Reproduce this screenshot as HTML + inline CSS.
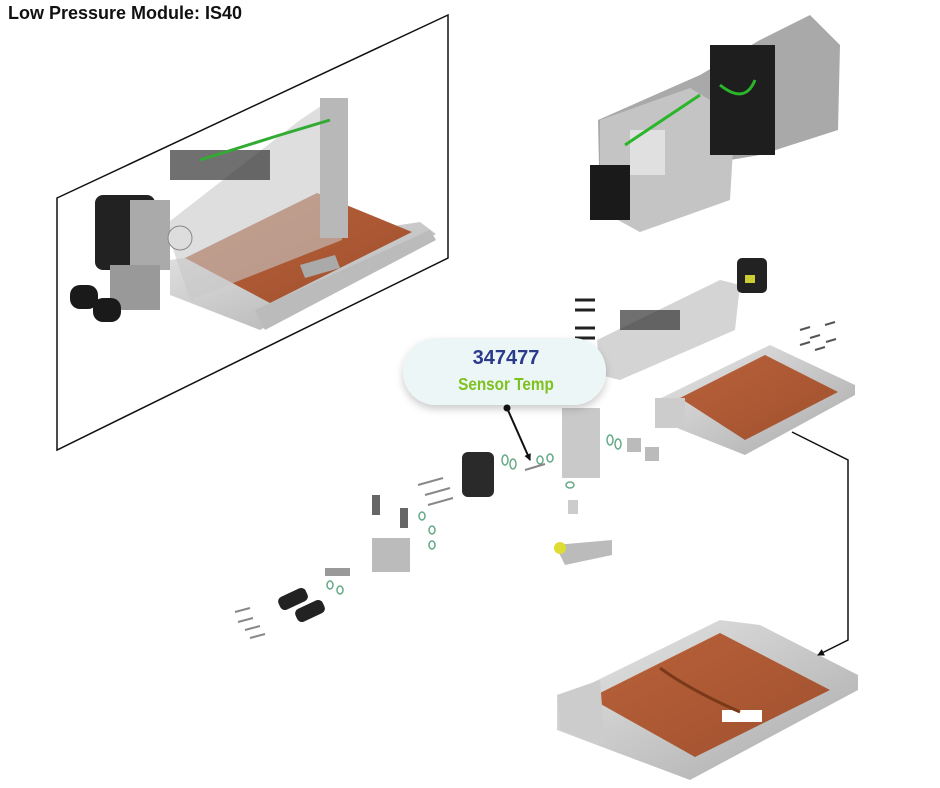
<!DOCTYPE html>
<html><head><meta charset="utf-8"><style>
html,body{margin:0;padding:0;background:#fff;}
body{width:940px;height:788px;overflow:hidden;position:relative;font-family:"Liberation Sans",sans-serif;}
.t{position:absolute;left:8px;top:3px;font-size:18px;font-weight:bold;color:#111;}
</style></head><body>
<div class="t">Low Pressure Module: IS40</div>
<svg width="940" height="788" viewBox="0 0 940 788" style="position:absolute;left:0;top:0">
<defs>
<filter id="sh" x="-20%" y="-30%" width="140%" height="170%"><feDropShadow dx="0" dy="4" stdDeviation="4" flood-color="#000" flood-opacity="0.2"/></filter>
<linearGradient id="al" x1="0" y1="0" x2="1" y2="1"><stop offset="0" stop-color="#e8e8e8"/><stop offset="1" stop-color="#a9a9a9"/></linearGradient>
<linearGradient id="cu" x1="0" y1="0" x2="1" y2="1"><stop offset="0" stop-color="#b9623a"/><stop offset="1" stop-color="#a0502e"/></linearGradient>
<marker id="ah" markerWidth="7" markerHeight="7" refX="6" refY="3.5" orient="auto" markerUnits="userSpaceOnUse"><path d="M0,0 L7,3.5 L0,7 z" fill="#111"/></marker>
</defs>
<!-- frame -->
<polygon points="57,198 448,15 448,258 57,450" fill="none" stroke="#111" stroke-width="1.5"/>
<!-- left assembly -->
<polygon points="170,260 420,222 436,234 260,330 170,295" fill="url(#al)"/>
<polygon points="185,258 317,193 412,232 270,303" fill="url(#cu)"/>
<polygon points="300,265 335,255 340,268 305,278" fill="#aaa"/>
<polygon points="165,225 300,120 330,100 342,240 190,300" fill="#c8c8c8" opacity="0.6"/>
<rect x="320" y="98" width="28" height="140" fill="#b8b8b8"/>
<rect x="170" y="150" width="100" height="30" fill="#333" opacity="0.7"/>
<path d="M200,160 L280,135 L330,120" stroke="#3a3" stroke-width="3" fill="none"/>
<rect x="95" y="195" width="60" height="75" rx="8" fill="#222"/>
<rect x="130" y="200" width="40" height="70" fill="#aaa"/>
<circle cx="180" cy="238" r="12" fill="#ddd" stroke="#888"/>
<rect x="110" y="265" width="50" height="45" fill="#999"/>
<rect x="70" y="285" width="28" height="24" rx="10" fill="#1a1a1a"/>
<rect x="93" y="298" width="28" height="24" rx="10" fill="#1a1a1a"/>
<polygon points="255,310 430,230 436,240 265,330" fill="#bbb"/>
<!-- top right assembly -->
<polygon points="598,120 700,75 760,40 800,20 810,15 840,45 838,130 760,155 730,160 700,175 640,232 600,210" fill="#a9a9a9"/>
<polygon points="600,120 690,88 735,115 730,200 640,232 600,210" fill="#c4c4c4"/>
<rect x="710" y="45" width="65" height="110" fill="#1e1e1e"/>
<rect x="590" y="165" width="40" height="55" fill="#1a1a1a"/>
<rect x="630" y="130" width="35" height="45" fill="#e0e0e0"/>
<path d="M625,145 L700,95" stroke="#2ab52a" stroke-width="3"/>
<path d="M720,85 Q745,105 755,80" stroke="#2ab52a" stroke-width="3" fill="none"/>
<!-- middle right assembly -->
<polygon points="597,340 720,280 740,285 735,330 620,380 600,375" fill="#d4d4d4"/>
<rect x="620" y="310" width="60" height="20" fill="#333" opacity="0.7"/>
<path d="M575,300 h20 M575,310 h20 M575,328 h20 M575,338 h20" stroke="#222" stroke-width="3"/>
<rect x="737" y="258" width="30" height="35" rx="5" fill="#222"/>
<rect x="745" y="275" width="10" height="8" fill="#cc3"/>
<g stroke="#555" stroke-width="2"><path d="M800,330 l10,-3 M810,338 l10,-3 M800,345 l10,-3 M815,350 l10,-3 M825,325 l10,-3 M826,342 l10,-3"/></g>
<polygon points="657,400 770,345 855,385 855,395 745,455 657,420" fill="url(#al)"/>
<polygon points="680,398 765,355 838,392 745,440" fill="url(#cu)"/>
<rect x="655" y="398" width="30" height="30" fill="#ccc"/>
<!-- small parts -->
<rect x="562" y="408" width="38" height="70" fill="#c9c9c9"/>
<rect x="462" y="452" width="32" height="45" rx="6" fill="#2a2a2a"/>
<g fill="none" stroke="#6a8" stroke-width="1.5"><ellipse cx="505" cy="460" rx="3" ry="5"/><ellipse cx="513" cy="464" rx="3" ry="5"/><ellipse cx="540" cy="460" rx="3" ry="4"/><ellipse cx="550" cy="458" rx="3" ry="4"/><ellipse cx="610" cy="440" rx="3" ry="5"/><ellipse cx="618" cy="444" rx="3" ry="5"/><ellipse cx="422" cy="516" rx="3" ry="4"/><ellipse cx="432" cy="530" rx="3" ry="4"/><ellipse cx="432" cy="545" rx="3" ry="4"/><ellipse cx="330" cy="585" rx="3" ry="4"/><ellipse cx="340" cy="590" rx="3" ry="4"/><ellipse cx="570" cy="485" rx="4" ry="3"/></g>
<g stroke="#888" stroke-width="2"><path d="M418,485 l25,-7 M425,495 l25,-7 M428,505 l25,-7 M235,612 l15,-4 M238,622 l15,-4 M245,630 l15,-4 M250,638 l15,-4 M525,470 l20,-6"/></g>
<rect x="372" y="495" width="8" height="20" fill="#666"/>
<rect x="400" y="508" width="8" height="20" fill="#666"/>
<rect x="568" y="500" width="10" height="14" fill="#ccc"/>
<rect x="372" y="538" width="38" height="34" fill="#bbb"/>
<rect x="325" y="568" width="25" height="8" fill="#999"/>
<rect x="278" y="592" width="30" height="14" rx="5" fill="#222" transform="rotate(-25 293 599)"/>
<rect x="295" y="604" width="30" height="14" rx="5" fill="#222" transform="rotate(-25 310 611)"/>
<path d="M555,545 L612,540 L612,555 L565,565 z" fill="#bbb"/>
<circle cx="560" cy="548" r="6" fill="#dd3"/>
<rect x="627" y="438" width="14" height="14" fill="#bbb"/>
<rect x="645" y="447" width="14" height="14" fill="#bbb"/>
<!-- bottom plate -->
<polygon points="557,700 720,620 760,625 858,675 858,690 690,780 557,730" fill="url(#al)"/>
<polygon points="590,698 720,633 830,690 695,757" fill="url(#cu)"/>
<polygon points="557,695 600,680 605,745 560,730" fill="#ccc"/>
<rect x="722" y="710" width="40" height="12" fill="#fff"/>
<path d="M660,668 Q690,690 740,712" stroke="#7a3a1a" stroke-width="3" fill="none"/>
<!-- callout -->
<rect x="403" y="338" width="203" height="67" rx="33" fill="#edf6f6" filter="url(#sh)"/>
<text x="506" y="364" text-anchor="middle" font-family="Liberation Sans,sans-serif" font-size="20" font-weight="bold" fill="#2b3b8c">347477</text>
<text x="506" y="390" text-anchor="middle" font-family="Liberation Sans Narrow,Liberation Sans,sans-serif" font-size="18" font-weight="bold" fill="#7dc21e" transform="translate(506 0) scale(0.85 1) translate(-506 0)">Sensor Temp</text>
<circle cx="507" cy="408" r="3.5" fill="#111"/>
<line x1="507" y1="408" x2="530" y2="460" stroke="#111" stroke-width="2" marker-end="url(#ah)"/>
<polyline points="792,432 848,460 848,640 818,655" fill="none" stroke="#111" stroke-width="1.5" marker-end="url(#ah)"/>
</svg>
</body></html>
